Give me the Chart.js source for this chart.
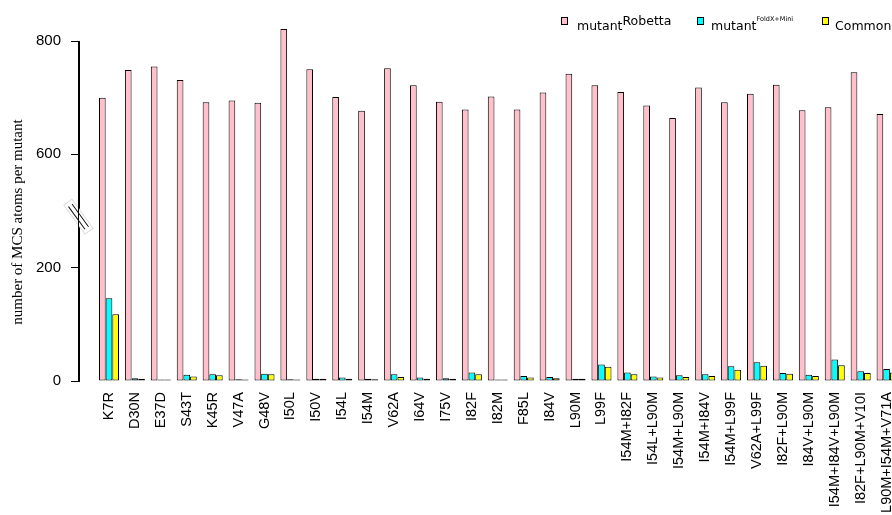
<!DOCTYPE html>
<html>
<head>
<meta charset="utf-8">
<script src="https://cdn.jsdelivr.net/npm/chart.js@4/dist/chart.umd.min.js"></script>
<style>
html,body{margin:0;padding:0;background:#fff;overflow:hidden;width:892px;height:515px;}
#wrap{position:relative;width:940px;height:515px;}
#c{position:absolute;left:0;top:0;}
.sw{position:absolute;width:7px;height:8px;box-sizing:border-box;border:1px solid #000;}
.lg{position:absolute;font-family:"DejaVu Sans";font-size:12.5px;line-height:15px;color:#000;white-space:nowrap;}
.sup{position:relative;}
</style>
</head>
<body>
<div id="wrap"><canvas id="c" width="940" height="515"></canvas></div>
<script>
// ---- data ----
const categories = ['K7R','D30N','E37D','S43T','K45R','V47A','G48V','I50L','I50V','I54L','I54M','V62A','I64V','I75V','I82F','I82M','F85L','I84V','L90M','L99F','I54M+I82F','I54L+L90M','I54M+L90M','I54M+I84V','I54M+L99F','V62A+L99F','I82F+L90M','I84V+L90M','I54M+I84V+L90M','I82F+L90M+V10I','L90M+I54M+V71A'];
const robetta   = [700,749,755,731,692,695,691,821,750,701,677,752,722,693,679,702,679,709,742,722,710,686,664,718,692,707,723,678,683,745,671];
const foldxMini = [146,5,1,11,12,3,13,3,4,6,4,12,6,5,15,1,9,7,4,29,15,8,10,12,26,33,14,11,38,17,21];
const common    = [118,4,1,8,10,1,12,2,4,4,3,7,4,4,12,1,6,5,4,25,12,6,7,9,20,27,13,9,28,14,15];
const yTickValues = [0,200,600,800];
const seriesNames = ['mutant','mutant','Common'];
const seriesSups  = ['Robetta','FoldX+Mini',''];
const yTitle = 'number of MCS atoms per mutant';

// ---- styles ----
const seriesColors = ['#FFC0CB','#00FFFF','#FFFF00'];

// broken axis: 0..200 linear, 600..800 linear, the gap 200..600 removed
function toAxis(v){ return v <= 200 ? v : v - 200; }
function fromAxis(d){ return d <= 200 ? d : d + 200; }

const AXIS_LEFT = 79, GROUP0 = 109, STEP = 25.92, CW = 940;

const datasets = [robetta, foldxMini, common].map((arr, k) => ({
  label: seriesNames[k] + seriesSups[k],
  data: arr.map((v, i) => ({x: i, y: toAxis(v)})),
  backgroundColor: seriesColors[k],
  borderColor: '#000',
  borderWidth: 1,
  borderSkipped: false,
  minBarLength: 1.5,
  categoryPercentage: 0.772,
  barPercentage: 1,
  clip: false
}));

const breakPlugin = {
  id: 'axisBreak',
  afterDraw(chart) {
    const ctx = chart.ctx, y = chart.scales.y, ca = chart.chartArea;
    const ax = Math.round(ca.left) - 0.5;
    // full y axis line from 0 to 800
    ctx.save();
    ctx.strokeStyle = '#000';
    ctx.lineWidth = 1;
    ctx.beginPath();
    ctx.moveTo(ax, y.getPixelForValue(toAxis(800)));
    ctx.lineTo(ax, y.getPixelForValue(0));
    ctx.stroke();
    ctx.restore();
    const cy = y.getPixelForValue(290);
    ctx.save();
    ctx.translate(ax, cy);
    ctx.rotate(54 * Math.PI / 180);
    ctx.fillStyle = '#fff';
    ctx.strokeStyle = '#dcdcdc';
    ctx.lineWidth = 1;
    ctx.fillRect(-18, -5, 36, 10);
    ctx.strokeRect(-18, -5, 36, 10);
    ctx.restore();
    // axis line through the break, then the break marks
    ctx.save();
    ctx.strokeStyle = '#000';
    ctx.lineWidth = 1;
    ctx.beginPath();
    ctx.moveTo(ax, cy - 24);
    ctx.lineTo(ax, cy + 24);
    ctx.stroke();
    ctx.translate(ax, cy);
    ctx.rotate(54 * Math.PI / 180);
    ctx.strokeStyle = '#111';
    ctx.beginPath();
    ctx.moveTo(-14, -2.2); ctx.lineTo(14, -2.2);
    ctx.moveTo(-14, 2.2); ctx.lineTo(14, 2.2);
    ctx.stroke();
    ctx.restore();
    // y axis title
    ctx.save();
    ctx.fillStyle = '#000';
    ctx.font = '15px "Liberation Serif"';
    ctx.textAlign = 'center';
    ctx.textBaseline = 'alphabetic';
    ctx.translate(22, (ca.top + ca.bottom) / 2 + 11);
    ctx.rotate(-Math.PI / 2);
    ctx.fillText(yTitle, 0, 0);
    ctx.restore();
  }
};

new Chart(document.getElementById('c'), {
  type: 'bar',
  data: { datasets },
  options: {
    responsive: false,
    animation: false,
    events: [],
    layout: { padding: { top: 41, left: 0, right: 0, bottom: 0 } },
    plugins: { legend: { display: false }, tooltip: { enabled: false } },
    scales: {
      x: {
        type: 'linear',
        offset: false,
        min: -(GROUP0 - AXIS_LEFT) / STEP,
        max: (CW - GROUP0) / STEP,
        grid: { display: false, drawTicks: false },
        border: { display: false },
        afterBuildTicks(scale) { scale.ticks = categories.map((_, i) => ({ value: i })); },
        afterFit(scale) {
          scale.height = 134;
          scale.paddingLeft = 0; scale.paddingRight = 0;
        },
        ticks: {
          autoSkip: false,
          minRotation: 90,
          maxRotation: 90,
          padding: 11,
          color: '#000',
          font: { family: '"Liberation Sans"', size: 14.5 },
          callback: (v) => categories[v] ?? ''
        }
      },
      y: {
        min: 0,
        max: toAxis(yTickValues[yTickValues.length - 1]),
        afterBuildTicks(scale) { scale.ticks = yTickValues.map(v => ({ value: toAxis(v) })); },
        afterFit(scale) { scale.width = AXIS_LEFT; },
        grid: { display: true, drawOnChartArea: false, drawTicks: true, tickLength: 8, color: '#000' },
        border: { display: true, color: '#000', width: 1 },
        ticks: {
          padding: 10,
          color: '#000',
          font: { family: '"Liberation Sans"', size: 15 },
          callback: (d) => String(fromAxis(d))
        }
      }
    }
  },
  plugins: [breakPlugin]
});

// legend (HTML, with superscripts)
const wrap = document.getElementById('wrap');
const swX = [561, 697, 822], txX = [577, 711, 835];
const supSize = ['12.5px', '6.5px', '12.5px'], supTop = ['-4.3px', '-8.6px', '0px'];
seriesNames.forEach((name, k) => {
  const sw = document.createElement('div');
  sw.className = 'sw';
  sw.style.left = swX[k] + 'px';
  sw.style.top = '17px';
  sw.style.background = seriesColors[k];
  wrap.appendChild(sw);
  const t = document.createElement('div');
  t.className = 'lg';
  t.style.left = txX[k] + 'px';
  t.style.top = '17.5px';
  t.appendChild(document.createTextNode(name));
  if (seriesSups[k]) {
    const s = document.createElement('span');
    s.className = 'sup';
    s.style.fontSize = supSize[k];
    s.style.top = supTop[k];
    s.textContent = seriesSups[k];
    t.appendChild(s);
  }
  wrap.appendChild(t);
});
</script>
</body>
</html>
